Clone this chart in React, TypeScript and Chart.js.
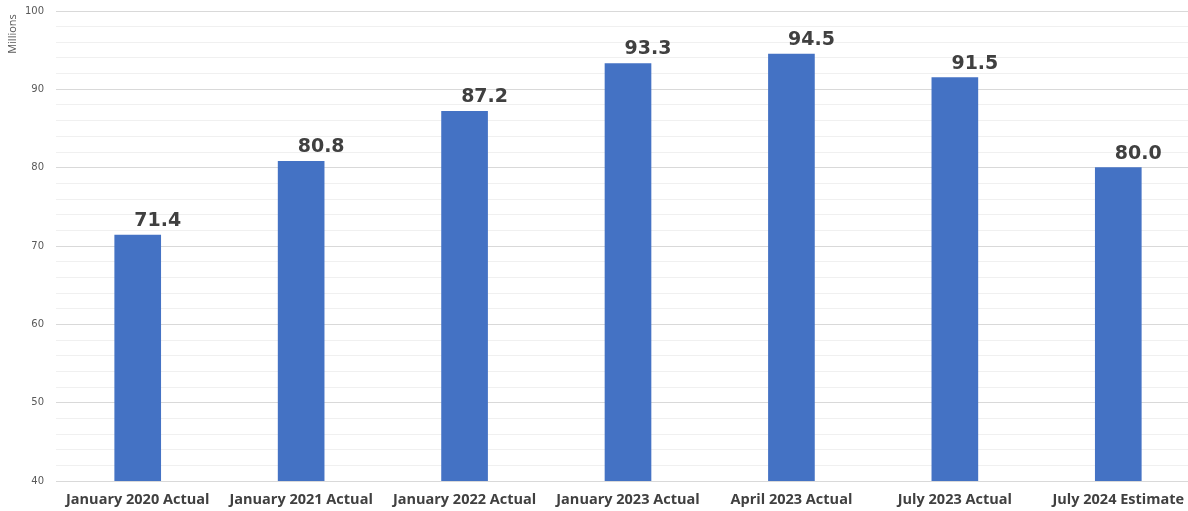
import React, { useEffect, useRef } from "react";
import { Chart, registerables } from "chart.js";

Chart.register(...registerables);

// Snapshot periods and totals (millions)
const categories = [
  "January 2020 Actual",
  "January 2021 Actual",
  "January 2022 Actual",
  "January 2023 Actual",
  "April 2023 Actual",
  "July 2023 Actual",
  "July 2024 Estimate",
];
const totals = [71.4, 80.8, 87.2, 93.3, 94.5, 91.5, 80.0];

const yMin = 40;
const yMax = 100;
const yStep = 2;
const yLabelEvery = 10;
const yAxisTitle = "Millions";

const BAR_COLOR = "#4472C4";

// Value labels written above each bar, nudged to the right
const valueLabels = {
  id: "valueLabels",
  afterDatasetsDraw(chart: any) {
    const { ctx } = chart;
    const meta = chart.getDatasetMeta(0);
    ctx.save();
    ctx.font = "bold 19px 'DejaVu Sans', Verdana, sans-serif";
    ctx.fillStyle = "#404040";
    ctx.textAlign = "center";
    ctx.textBaseline = "alphabetic";
    meta.data.forEach((bar: any, i: number) => {
      const v = chart.data.datasets[0].data[i] as number;
      ctx.fillText(v.toFixed(1), bar.x + 20, bar.y - 9);
    });
    ctx.restore();
  },
};

// Rotated unit caption at the top-left of the value axis
const unitCaption = {
  id: "unitCaption",
  afterDraw(chart: any) {
    const { ctx } = chart;
    ctx.save();
    ctx.translate(13, 34);
    ctx.rotate(-Math.PI / 2);
    ctx.font = "11px 'Open Sans', sans-serif";
    ctx.fillStyle = "#595959";
    ctx.textAlign = "center";
    ctx.textBaseline = "middle";
    ctx.fillText(yAxisTitle, 0, 0);
    ctx.restore();
  },
};

export default function App() {
  const canvasRef = useRef<HTMLCanvasElement | null>(null);

  useEffect(() => {
    document.body.style.margin = "0";
    document.body.style.overflow = "hidden";
    const chart = new Chart(canvasRef.current as HTMLCanvasElement, {
      type: "bar",
      data: {
        labels: categories,
        datasets: [
          {
            data: totals,
            backgroundColor: BAR_COLOR,
            barThickness: 46,
          },
        ],
      },
      options: {
        animation: false,
        responsive: false,
        maintainAspectRatio: false,
        layout: { padding: { top: 11, left: 0, right: 0, bottom: 0 } },
        plugins: {
          legend: { display: false },
          tooltip: { enabled: false },
        },
        scales: {
          x: {
            grid: { display: false, drawTicks: false },
            border: { display: false },
            ticks: {
              padding: 10,
              color: "#404040",
              font: { family: "'Open Sans', sans-serif", weight: "bold", size: 14.5 },
              maxRotation: 0,
              autoSkip: false,
            },
            afterFit(scale: any) {
              scale.height = 30;
              scale.paddingLeft = 0;
              scale.paddingRight = 0;
            },
          },
          y: {
            min: yMin,
            max: yMax,
            border: { display: false },
            grid: {
              drawTicks: false,
              lineWidth: 1,
              color: (ctx: any) =>
                ctx.tick && ctx.tick.value % yLabelEvery === 0 ? "#d9d9d9" : "#f0f0f0",
            },
            ticks: {
              stepSize: yStep,
              padding: 12,
              color: "#595959",
              font: { family: "'DejaVu Sans', Verdana, sans-serif", size: 10 },
              callback: (v: any) => (Number(v) % yLabelEvery === 0 ? String(v) : ""),
            },
            afterFit(scale: any) {
              scale.width = 56;
              scale.paddingTop = 0;
              scale.paddingBottom = 0;
            },
          },
        },
      },
      plugins: [valueLabels, unitCaption],
    });
    return () => chart.destroy();
  }, []);

  return (
    <div style={{ position: "fixed", left: 0, top: 0, width: 1200, height: 511, overflow: "hidden", background: "#fff" }}>
      <canvas ref={canvasRef} width={1200} height={511} style={{ display: "block" }} />
    </div>
  );
}
